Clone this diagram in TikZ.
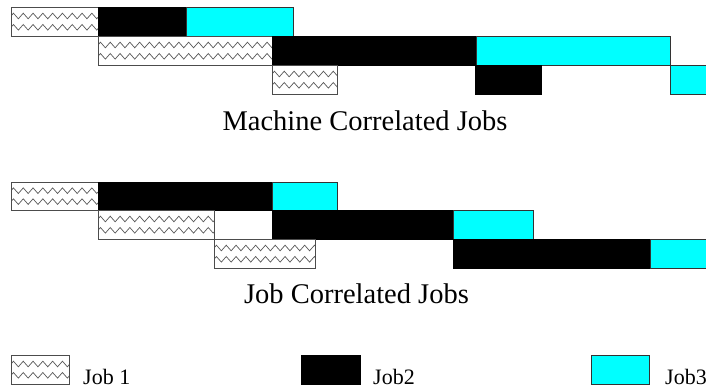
\documentclass[tikz,border=0pt]{standalone}
\usepackage{fontspec}
\setmainfont{Liberation Serif}
\usetikzlibrary{decorations.pathmorphing}
\definecolor{aqua}{RGB}{0,255,255}

% Job 1 bar: white box crossed by two grey zigzag lines
\newcommand\jobonebar[4]{%
  \fill[white] (#1,#2) rectangle (#3,#4);
  \begin{scope}
    \clip (#1,#2) rectangle (#3,#4);
    \path[wave] (#1,{#2+0.31*(#4-#2)}) -- (#3+6,{#2+0.31*(#4-#2)});
    \path[wave] (#1,{#2+0.70*(#4-#2)}) -- (#3+6,{#2+0.70*(#4-#2)});
  \end{scope}
  \draw[jobone] (#1,#2) rectangle (#3,#4);}
\newcommand\jobtwobar[4]{\draw[jobtwo] (#1,#2) rectangle (#3,#4);}
\newcommand\jobthreebar[4]{\draw[jobthree] (#1,#2) rectangle (#3,#4);}

\begin{document}
\begin{tikzpicture}[x=1pt,y=-1pt,
  jobone/.style={draw=black!70,line width=0.8pt},
  jobtwo/.style={draw=black,fill=black,line width=0.8pt},
  jobthree/.style={draw=black!80,fill=aqua,line width=0.8pt},
  wave/.style={draw=black!65,line width=0.7pt,decorate,
    decoration={zigzag,segment length=9.8pt,amplitude=2.8pt}},
  title/.style={anchor=base,inner sep=0pt,font=\fontsize{28.5}{30}\selectfont},
  legend/.style={anchor=base west,inner sep=0pt,font=\fontsize{22}{24}\selectfont}]
\useasboundingbox (0,0) rectangle (706,389);

% Machine correlated schedule
\jobonebar{11}{7}{98}{36}
\jobtwobar{98}{7}{186}{36}
\jobthreebar{186}{7}{293}{36}
\jobonebar{98}{36}{272}{65}
\jobtwobar{272}{36}{476}{65}
\jobthreebar{476}{36}{670}{65}
\jobonebar{272}{65}{337}{94}
\jobtwobar{475}{65}{541}{94}
\jobthreebar{670}{65}{714}{94}
\node[title] (machine) at (365,130) {Machine Correlated Jobs};

% Job correlated schedule
\jobonebar{11}{182}{98}{210}
\jobtwobar{98}{182}{272}{210}
\jobthreebar{272}{182}{337}{210}
\jobonebar{98}{210}{214}{239}
\jobtwobar{272}{210}{453}{239}
\jobthreebar{453}{210}{533}{239}
\jobonebar{214}{239}{315}{268}
\jobtwobar{453}{239}{650}{268}
\jobthreebar{650}{239}{714}{268}
\node[title] (jobcorr) at (356.5,303) {Job Correlated Jobs};

% Legend
\jobonebar{11}{355}{69}{384}
\node[legend] (l1) at (83,384) {Job 1};
\jobtwobar{301}{355}{360}{384}
\node[legend] (l2) at (373,384) {Job2};
\jobthreebar{591}{355}{649}{384}
\node[legend] (l3) at (665,384) {Job3};
\end{tikzpicture}
\end{document}
